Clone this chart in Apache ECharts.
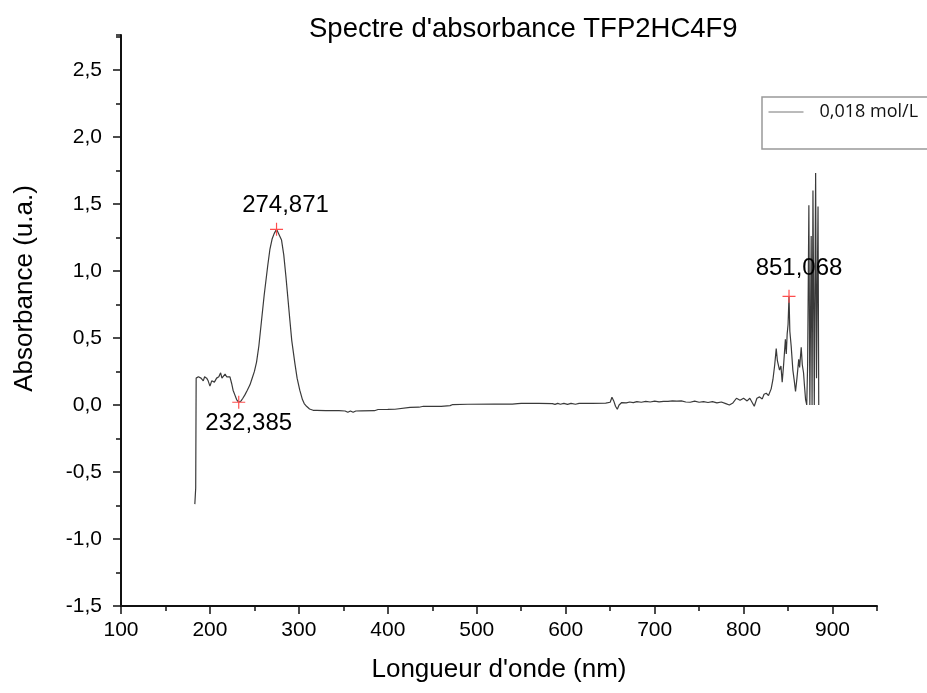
<!DOCTYPE html>
<html>
<head>
<meta charset="utf-8">
<title>Spectre d'absorbance TFP2HC4F9</title>
<script src="https://cdn.jsdelivr.net/npm/echarts@6/dist/echarts.min.js"></script>
<style>
  html, body { margin: 0; padding: 0; background: #fff; }
  #chart { width: 927px; height: 693px; }
</style>
</head>
<body>
<div id="chart"></div>
<script>
// spectre (nm, u.a.)
var wavelength = [
  183, 184, 184.5, 185, 187, 188.8, 190, 192.5, 194, 196.3, 198, 200, 202, 203.7, 205, 207.5, 210, 212, 213.5, 215,
  217, 218.8, 221, 222.5, 224.4, 226, 228, 230, 232.4, 235, 237, 239.3, 242, 245, 247, 250, 252.4, 255, 258, 261,
  263, 265, 267.4, 270, 272.3, 274.9, 277, 280.5, 283, 285.4, 288, 289.9, 292, 295.5, 298, 301, 304, 306, 308.6, 312,
  316, 320, 330, 345, 352, 355, 358, 361, 364, 370, 385, 389, 400, 408, 410, 425, 435, 440, 460, 470,
  473, 490, 520, 540, 546, 550, 570, 585, 588, 591, 594, 598, 602, 606, 611, 615, 630, 645, 650, 652,
  654, 656, 658, 660, 663, 668, 672, 676, 680, 685, 690, 695, 700, 705, 710, 715, 720, 725, 730, 735,
  740, 745, 750, 755, 760, 765, 770, 775, 780, 784, 788, 792, 796, 800, 804, 807, 812, 815, 818, 821,
  823, 825.5, 828, 831, 833, 835, 836.7, 838, 840.4, 842, 843.4, 845, 847, 848, 849, 850, 851.07, 852, 853.5, 855.4,
  857, 858.4, 860, 862, 863, 864.8, 866, 867.4, 868.5, 869.7, 871, 872, 873.4, 874.5, 876, 877, 878, 879.5, 881, 882,
  882.5, 883.7, 884.5
];
var absorbance = [
  -0.74, -0.62, 0.20, 0.21, 0.21, 0.22, 0.20, 0.18, 0.21, 0.20, 0.18, 0.14, 0.18, 0.19, 0.17, 0.20, 0.21, 0.24, 0.20, 0.21,
  0.23, 0.21, 0.22, 0.21, 0.16, 0.11, 0.075, 0.04, 0.02, 0.03, 0.05, 0.075, 0.11, 0.15, 0.19, 0.25, 0.32, 0.44, 0.63, 0.82,
  0.93, 1.04, 1.16, 1.24, 1.28, 1.31, 1.30, 1.23, 1.12, 0.96, 0.77, 0.63, 0.48, 0.31, 0.20, 0.11, 0.04, 0.01, -0.01, -0.03,
  -0.04, -0.04, -0.043, -0.043, -0.045, -0.055, -0.045, -0.055, -0.045, -0.044, -0.043, -0.034, -0.033, -0.032, -0.02, -0.018, -0.017, -0.01, -0.01, -0.005,
  0.003, 0.005, 0.006, 0.006, 0.01, 0.012, 0.012, 0.01, 0.004, 0.012, 0.005, 0.012, 0.004, 0.012, 0.005, 0.012, 0.012, 0.014, 0.02, 0.057,
  0.03, -0.01, -0.032, 0.0, 0.018, 0.015, 0.022, 0.017, 0.025, 0.02, 0.027, 0.022, 0.028, 0.023, 0.027, 0.026, 0.03, 0.028, 0.03, 0.022,
  0.02, 0.028, 0.02, 0.025, 0.018, 0.025, 0.015, 0.022, 0.01, 0.0, 0.015, 0.05, 0.035, 0.05, 0.03, 0.05, -0.01, 0.05, 0.06, 0.045,
  0.08, 0.087, 0.07, 0.12, 0.19, 0.30, 0.42, 0.33, 0.26, 0.29, 0.17, 0.30, 0.49, 0.38, 0.53, 0.60, 0.81, 0.55, 0.44, 0.26,
  0.18, 0.10, 0.20, 0.34, 0.28, 0.43, 0.30, 0.24, 0.14, 0.04, 0.0, 0.30, 1.49, 0.0, 1.26, 0.0, 1.60, 0.0, 1.73, 0.2,
  0.6, 1.48, 0.0
];
var peakWavelength = [232.385, 274.871, 851.068];
var peakAbsorbance = [0.02, 1.31, 0.81];
var xTicks = [100, 200, 300, 400, 500, 600, 700, 800, 900];
var yTicks = [-1.5, -1.0, -0.5, 0.0, 0.5, 1.0, 1.5, 2.0, 2.5];
var seriesName = '0,018 mol/L';

// placement des étiquettes des pics
var peakLabelPos = ['bottom', 'top', 'top'];
var peakLabelOffset = [[10, -2], [9, 0], [10, -4]];

function frNum(v, d) {
    return v.toFixed(d).replace('.', ',');
}

var spectrum = wavelength.map(function (w, i) { return [w, absorbance[i]]; });
var peaks = peakWavelength.map(function (w, i) {
    return {
        value: [w, peakAbsorbance[i]],
        label: { position: peakLabelPos[i], offset: peakLabelOffset[i] }
    };
});

var FONT = 'Liberation Sans';
var chart = echarts.init(document.getElementById('chart'));
chart.setOption({
    animation: false,
    backgroundColor: '#fff',
    title: {
        text: "Spectre d'absorbance TFP2HC4F9",
        left: 309,
        top: 15,
        padding: 0,
        textStyle: { fontFamily: FONT, fontSize: 27.5, fontWeight: 'normal', color: '#000' }
    },
    legend: {
        data: [seriesName],
        left: 762,
        top: 97,
        orient: 'vertical',
        padding: [6, 30, 28, 6],
        borderColor: '#999',
        borderWidth: 1.5,
        itemWidth: 35,
        itemHeight: 14,
        itemStyle: { opacity: 0 },
        lineStyle: { color: '#777', width: 1 },
        textStyle: { fontFamily: 'Open Sans', fontSize: 18, color: '#111', padding: [0, 0, 0, 11] }
    },
    grid: { left: 121, right: 50, top: 35, bottom: 87 },
    xAxis: [
        {
            type: 'value', min: 100, max: 950, interval: 100,
            name: "Longueur d'onde (nm)", nameLocation: 'middle', nameGap: 51,
            nameTextStyle: { fontFamily: FONT, fontSize: 26, color: '#000' },
            axisLine: { onZero: false, lineStyle: { color: '#111', width: 2 } },
            axisTick: { customValues: xTicks, length: 8, lineStyle: { color: '#111', width: 1.5 } },
            axisLabel: { customValues: xTicks, margin: 14,
                fontFamily: FONT, fontSize: 21, color: '#000' },
            splitLine: { show: false }
        },
        {
            type: 'value', min: 100, max: 950, interval: 50, position: 'bottom',
            axisLine: { show: false, onZero: false },
            axisTick: { length: 5, lineStyle: { color: '#111', width: 1.5 } },
            axisLabel: { show: false },
            splitLine: { show: false }
        }
    ],
    yAxis: [
        {
            type: 'value', min: -1.5, max: 2.76, interval: 0.5,
            name: 'Absorbance (u.a.)', nameLocation: 'middle', nameGap: 83,
            nameTextStyle: { fontFamily: FONT, fontSize: 26, color: '#000', padding: [0, 0, 0, 64] },
            axisLine: { show: true, onZero: false, lineStyle: { color: '#111', width: 2 } },
            axisTick: { customValues: yTicks, length: 8, lineStyle: { color: '#111', width: 1.5 } },
            axisLabel: { customValues: yTicks, margin: 19,
                fontFamily: FONT, fontSize: 21, color: '#000',
                formatter: function (v) { return frNum(v, 1); } },
            splitLine: { show: false }
        },
        {
            type: 'value', min: -1.5, max: 2.76, interval: 0.25, position: 'left',
            axisLine: { show: false, onZero: false },
            axisTick: { length: 5, lineStyle: { color: '#111', width: 1.5 } },
            axisLabel: { show: false },
            splitLine: { show: false }
        }
    ],
    series: [
        {
            name: seriesName,
            type: 'line',
            data: spectrum,
            showSymbol: false,
            symbol: 'none',
            lineStyle: { color: '#3a3a3a', width: 1.2 },
            itemStyle: { color: '#3a3a3a' }
        },
        {
            name: 'pics',
            type: 'scatter',
            data: peaks,
            symbol: 'path://M0,4.55H10V5.45H0Z M4.55,0H5.45V10H4.55Z',
            symbolSize: 13,
            itemStyle: { color: '#ff4d4d', opacity: 1 },
            label: {
                show: true,
                distance: 5,
                fontFamily: FONT,
                fontSize: 24,
                color: '#000',
                opacity: 1,
                formatter: function (p) { return frNum(p.value[0], 3); }
            },
            z: 5
        }
    ]
});
</script>
</body>
</html>
